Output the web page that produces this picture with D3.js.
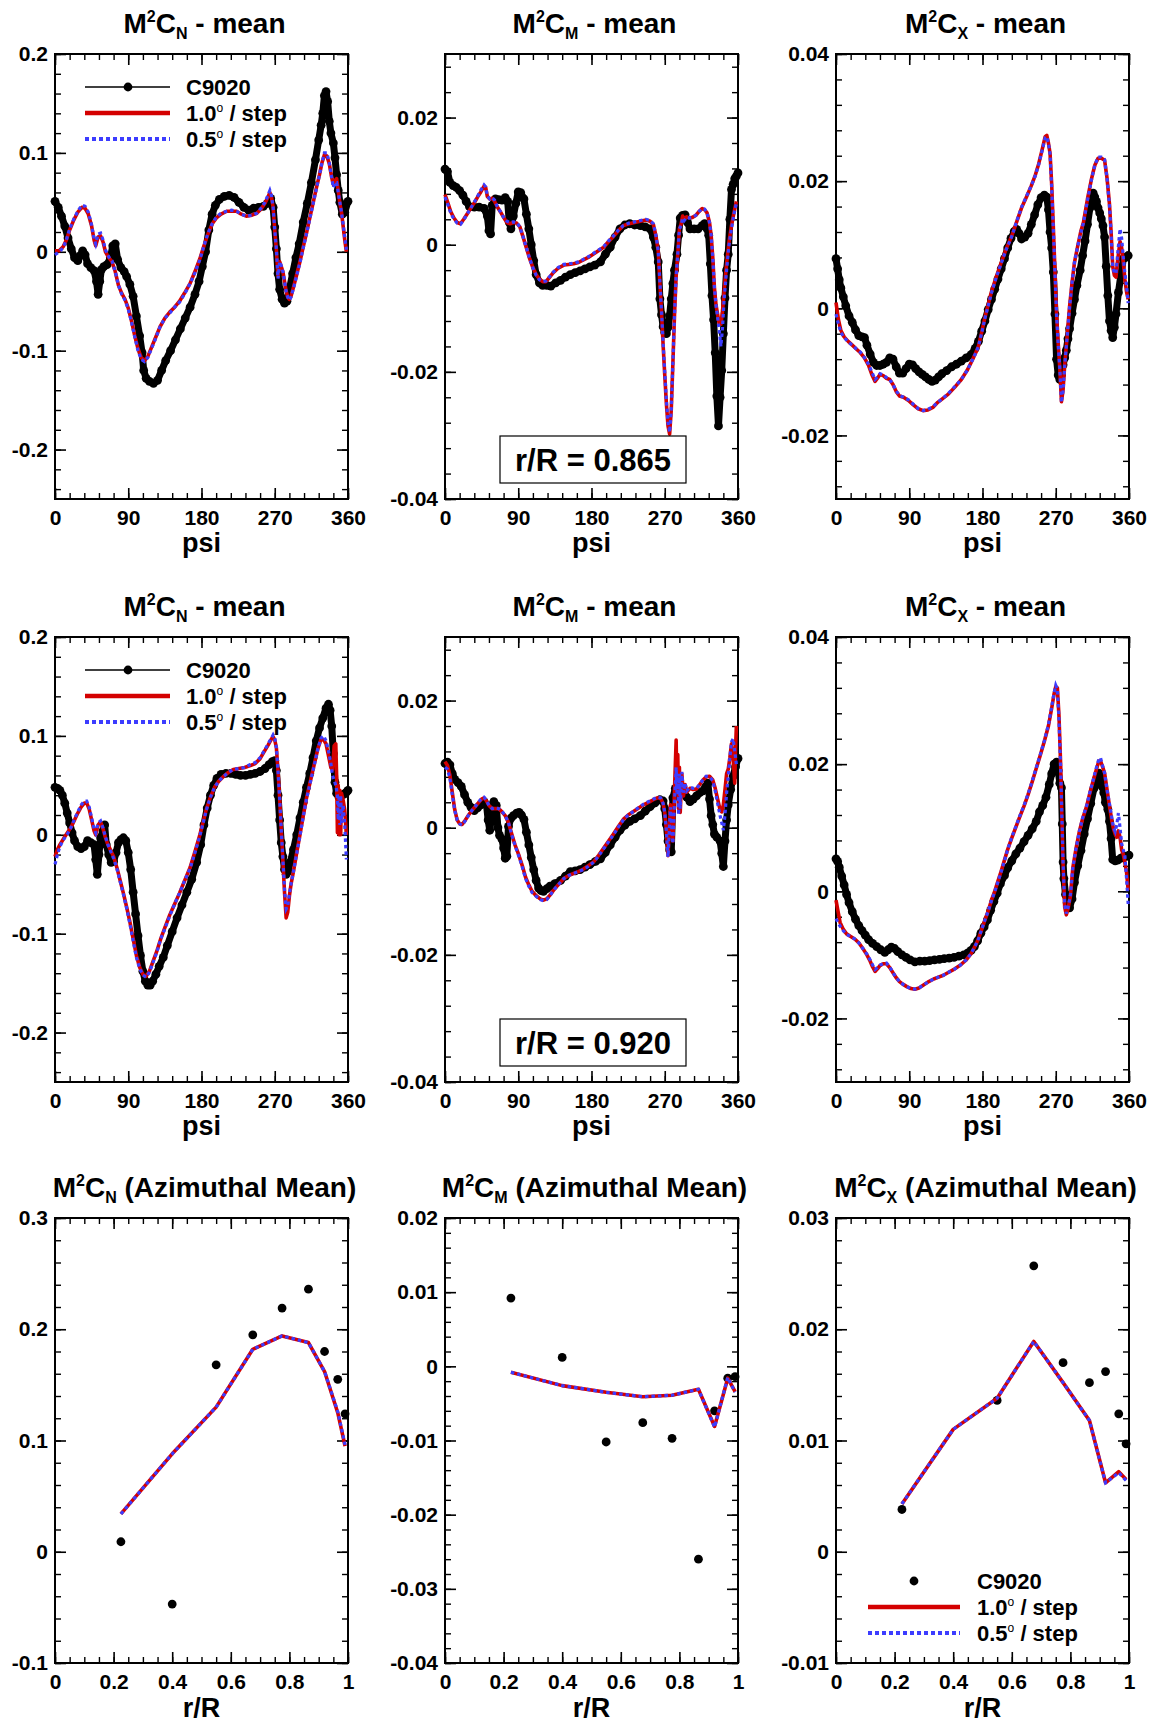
<!DOCTYPE html>
<html>
<head>
<meta charset="utf-8">
<script src="https://cdn.jsdelivr.net/npm/d3@7"></script>
<style>
body { margin: 0; background: #fff; }
svg { display: block; font-family: "Liberation Sans", Arial, Helvetica, sans-serif; font-weight: bold; }
</style>
</head>
<body>
<script>
// ---- axis tick values ----
var psiTicks = [0, 90, 180, 270, 360];
var rTicks = [0, 0.2, 0.4, 0.6, 0.8, 1];
var nTicks = [-0.2, -0.1, 0, 0.1, 0.2];
var mTicks = [-0.04, -0.02, 0, 0.02];
var xTicks = [-0.02, 0, 0.02, 0.04];
var nMeanTicks = [-0.1, 0, 0.1, 0.2, 0.3];
var mMeanTicks = [-0.04, -0.03, -0.02, -0.01, 0, 0.01, 0.02];
var xMeanTicks = [-0.01, 0, 0.01, 0.02, 0.03];

// ---- r/R = 0.865 : C9020 [psi, value] ----
var expN865 = [[0,0.051],[4,0.045],[8,0.036],[12,0.026],[16,0.014],[20,0.003],[24,-0.006],[28,-0.009],[31,-0.004],[34,0.001],[37,-0.003],[40,-0.012],[44,-0.016],[48,-0.019],[51,-0.03],[53,-0.043],[55,-0.03],[57,-0.018],[60,-0.015],[64,-0.013],[68,-0.006],[71,0.006],[74,0.008],[77,-0.008],[81,-0.016],[85,-0.02],[88,-0.025],[92,-0.033],[96,-0.045],[100,-0.065],[104,-0.085],[107,-0.102],[109,-0.12],[112,-0.128],[116,-0.131],[121,-0.133],[126,-0.13],[131,-0.12],[136,-0.11],[142,-0.1],[148,-0.089],[154,-0.078],[160,-0.067],[166,-0.056],[172,-0.043],[177,-0.03],[181,-0.015],[185,0.0],[189,0.022],[193,0.038],[197,0.047],[202,0.053],[208,0.056],[214,0.057],[220,0.055],[226,0.05],[232,0.045],[238,0.042],[244,0.044],[250,0.045],[256,0.046],[261,0.049],[265,0.054],[268,0.045],[270,0.025],[272,0.003],[274,-0.022],[276,-0.038],[279,-0.048],[282,-0.052],[285,-0.05],[288,-0.038],[292,-0.022],[296,-0.006],[300,0.008],[305,0.03],[310,0.049],[315,0.07],[320,0.093],[324,0.113],[327,0.128],[329,0.14],[331,0.158],[333,0.162],[335,0.152],[337,0.132],[339,0.12],[342,0.11],[344,0.095],[346,0.078],[348,0.062],[350,0.05],[353,0.038],[356,0.04],[360,0.051]];
// CFD [psi, 1.0 deg/step, 0.5 deg/step]
var cfdN865 = [[0,0.001,-0.003],[5,0.001,0.0],[10,0.005,0.004],[14,0.012,0.012],[18,0.022,0.023],[23,0.032,0.033],[28,0.04,0.041],[33,0.045,0.047],[37,0.044,0.046],[41,0.038,0.04],[45,0.026,0.027],[48,0.012,0.013],[50,0.006,0.008],[53,0.015,0.018],[56,0.016,0.019],[59,0.01,0.012],[62,0.0,0.002],[66,-0.006,-0.005],[70,-0.01,-0.009],[74,-0.02,-0.02],[78,-0.034,-0.034],[82,-0.042,-0.043],[86,-0.048,-0.049],[90,-0.057,-0.058],[94,-0.07,-0.071],[98,-0.085,-0.086],[102,-0.098,-0.1],[106,-0.107,-0.109],[110,-0.11,-0.111],[114,-0.106,-0.107],[118,-0.098,-0.099],[123,-0.088,-0.089],[129,-0.076,-0.076],[135,-0.067,-0.067],[141,-0.061,-0.062],[147,-0.056,-0.056],[153,-0.05,-0.051],[159,-0.042,-0.043],[166,-0.032,-0.032],[172,-0.02,-0.021],[178,-0.007,-0.008],[183,0.006,0.006],[188,0.018,0.019],[193,0.028,0.028],[198,0.034,0.035],[204,0.038,0.039],[211,0.041,0.041],[217,0.041,0.042],[223,0.041,0.041],[229,0.038,0.038],[235,0.036,0.036],[242,0.037,0.037],[248,0.039,0.039],[253,0.043,0.044],[258,0.049,0.05],[262,0.056,0.058],[264,0.06,0.062],[266,0.055,0.057],[268,0.045,0.045],[270,0.022,0.022],[272,0.002,0.003],[274,-0.025,-0.027],[276,-0.01,-0.01],[278,-0.015,-0.014],[280,-0.02,-0.02],[282,-0.03,-0.03],[284,-0.04,-0.04],[286,-0.046,-0.046],[288,-0.048,-0.049],[290,-0.045,-0.046],[293,-0.036,-0.037],[297,-0.023,-0.024],[301,-0.01,-0.011],[305,0.005,0.004],[309,0.019,0.018],[313,0.034,0.033],[317,0.049,0.048],[321,0.064,0.063],[325,0.078,0.078],[328,0.09,0.09],[331,0.098,0.1],[334,0.097,0.1],[337,0.089,0.09],[340,0.075,0.075],[342,0.068,0.065],[344,0.072,0.07],[346,0.074,0.07],[348,0.062,0.06],[350,0.049,0.05],[352,0.04,0.04],[354,0.026,0.028],[356,0.012,0.015],[358,0.0,0.002]];

var expM865 = [[0,0.0119],[3,0.0115],[6,0.0098],[10,0.0093],[14,0.009],[18,0.0085],[22,0.0078],[26,0.0068],[30,0.006],[36,0.0059],[42,0.0059],[48,0.0057],[52,0.0045],[54,0.0022],[56,0.0017],[58,0.0062],[62,0.0072],[66,0.0071],[70,0.007],[74,0.0074],[77,0.0068],[79,0.0035],[81,0.0025],[84,0.0045],[87,0.0065],[90,0.0083],[93,0.0082],[97,0.0072],[100,0.0048],[103,0.0025],[106,0.0],[109,-0.0025],[112,-0.0047],[116,-0.006],[120,-0.0064],[125,-0.0064],[130,-0.0065],[136,-0.006],[142,-0.0056],[148,-0.0051],[154,-0.0047],[160,-0.0044],[166,-0.0041],[172,-0.0038],[178,-0.0035],[184,-0.0032],[191,-0.0027],[197,-0.0015],[203,-0.0004],[209,0.0012],[215,0.0025],[221,0.0031],[227,0.0033],[233,0.0031],[240,0.003],[246,0.0028],[252,0.0025],[256,0.0012],[259,-0.0004],[262,-0.0027],[264,-0.0085],[266,-0.011],[268,-0.0129],[270,-0.0138],[272,-0.014],[274,-0.013],[276,-0.0112],[278,-0.0085],[280,-0.0061],[282,-0.004],[285,-0.0015],[287,0.0015],[289,0.0042],[292,0.0046],[295,0.0047],[298,0.0035],[301,0.0025],[306,0.0025],[311,0.0025],[316,0.003],[319,0.0033],[322,0.0025],[324,0.0015],[326,-0.003],[328,-0.008],[330,-0.0118],[332,-0.017],[334,-0.0238],[336,-0.0285],[338,-0.024],[340,-0.0198],[342,-0.014],[344,-0.0084],[346,-0.004],[348,-0.0015],[350,0.004],[352,0.0087],[354,0.0095],[356,0.0104],[358,0.0108],[360,0.0113]];
var cfdM865 = [[0,0.0079,0.0075],[3,0.0068,0.0065],[7,0.0052,0.005],[11,0.0042,0.004],[15,0.0035,0.0034],[19,0.0033,0.0032],[23,0.004,0.0039],[27,0.0048,0.0048],[31,0.0056,0.0056],[36,0.0066,0.0067],[40,0.0075,0.0076],[44,0.0083,0.0086],[48,0.0092,0.0094],[50,0.009,0.0091],[52,0.0076,0.0077],[55,0.0072,0.0072],[58,0.0073,0.0074],[61,0.0068,0.007],[64,0.006,0.0061],[68,0.0052,0.0052],[72,0.0043,0.0043],[76,0.0035,0.0037],[80,0.0033,0.0035],[84,0.0035,0.0036],[88,0.0034,0.0035],[92,0.0028,0.0028],[96,0.0012,0.0012],[100,-0.0005,-0.0005],[104,-0.0022,-0.0022],[108,-0.0036,-0.0036],[112,-0.0047,-0.0048],[116,-0.0054,-0.0055],[120,-0.0058,-0.0058],[124,-0.0058,-0.0057],[128,-0.0052,-0.0051],[133,-0.0044,-0.0043],[139,-0.0037,-0.0036],[146,-0.0032,-0.0031],[152,-0.0031,-0.003],[158,-0.003,-0.0029],[164,-0.0028,-0.0027],[170,-0.0024,-0.0023],[176,-0.002,-0.0019],[182,-0.0015,-0.0014],[189,-0.0009,-0.0008],[195,-0.0004,-0.0003],[201,0.0005,0.0006],[207,0.0013,0.0014],[213,0.0022,0.0023],[219,0.003,0.003],[226,0.0033,0.0034],[233,0.0035,0.0036],[240,0.0037,0.0038],[247,0.0039,0.004],[252,0.0037,0.0038],[256,0.0032,0.0033],[259,0.0015,0.0016],[262,-0.001,-0.0009],[264,-0.006,-0.0058],[266,-0.0105,-0.0103],[268,-0.0158,-0.0155],[270,-0.0205,-0.02],[272,-0.025,-0.0245],[274,-0.0285,-0.028],[276,-0.0298,-0.0295],[278,-0.026,-0.026],[280,-0.0186,-0.0186],[282,-0.011,-0.011],[284,-0.005,-0.005],[286,-0.0015,-0.0015],[288,0.0025,0.0025],[290,0.0032,0.003],[292,0.0045,0.0042],[294,0.004,0.0038],[297,0.0044,0.0043],[300,0.0042,0.0042],[304,0.0043,0.0043],[308,0.0046,0.0046],[312,0.0052,0.0052],[316,0.0057,0.0057],[319,0.0055,0.0056],[322,0.005,0.005],[325,0.0035,0.0035],[327,0.0015,0.0015],[329,-0.002,-0.002],[331,-0.0067,-0.0067],[333,-0.0095,-0.0095],[335,-0.011,-0.0115],[337,-0.0125,-0.0135],[339,-0.0125,-0.016],[341,-0.0105,-0.013],[343,-0.0072,-0.0085],[346,-0.003,-0.004],[349,0.0005,0.0],[352,0.003,0.0025],[355,0.005,0.0048],[358,0.0068,0.0065]];

var expX865 = [[0,0.0078],[2,0.0062],[4,0.0045],[6,0.0032],[9,0.0018],[12,0.0004],[16,-0.0012],[20,-0.0022],[24,-0.0034],[28,-0.0043],[32,-0.0045],[35,-0.0046],[38,-0.0058],[42,-0.0072],[46,-0.0085],[50,-0.009],[54,-0.009],[58,-0.0088],[62,-0.0085],[66,-0.0078],[70,-0.008],[74,-0.0092],[78,-0.0102],[82,-0.0102],[86,-0.0095],[90,-0.0088],[94,-0.0089],[98,-0.0095],[102,-0.01],[106,-0.0104],[110,-0.0108],[114,-0.0112],[118,-0.0115],[122,-0.0113],[126,-0.0108],[130,-0.0103],[136,-0.0098],[142,-0.0092],[148,-0.0088],[154,-0.0083],[160,-0.0078],[166,-0.0073],[171,-0.0063],[175,-0.0052],[179,-0.0036],[183,-0.002],[187,-0.0002],[191,0.0014],[195,0.003],[199,0.0046],[203,0.0062],[207,0.0078],[211,0.0095],[215,0.011],[219,0.0121],[222,0.0124],[225,0.0118],[228,0.0109],[232,0.0112],[236,0.0118],[240,0.0132],[244,0.0147],[248,0.0163],[252,0.0174],[256,0.0178],[259,0.0175],[261,0.0155],[263,0.012],[265,0.0095],[267,0.0057],[269,-0.0009],[271,-0.008],[273,-0.0105],[275,-0.0112],[277,-0.0105],[279,-0.0089],[281,-0.0078],[283,-0.0066],[285,-0.0048],[287,-0.0032],[290,-0.0008],[293,0.0014],[296,0.0036],[300,0.006],[303,0.0083],[306,0.0106],[309,0.0132],[312,0.0158],[314,0.017],[316,0.0181],[318,0.0175],[320,0.0168],[322,0.0158],[324,0.015],[326,0.0141],[328,0.013],[330,0.0112],[332,0.0066],[334,0.002],[336,-0.002],[338,-0.0035],[340,-0.0046],[342,-0.003],[344,-0.0009],[347,0.0025],[350,0.0052],[353,0.0078],[356,0.008],[359,0.0083]];
var cfdX865 = [[0,0.0009,-0.0009],[3,-0.0018,-0.0025],[6,-0.0035,-0.0038],[10,-0.0045,-0.0046],[15,-0.0052,-0.0053],[20,-0.0058,-0.0058],[25,-0.0064,-0.0064],[30,-0.007,-0.0069],[35,-0.0078,-0.0078],[40,-0.009,-0.0088],[44,-0.0104,-0.01],[48,-0.0115,-0.0112],[51,-0.011,-0.0108],[54,-0.0104,-0.0103],[58,-0.0106,-0.0105],[62,-0.011,-0.0109],[66,-0.0112,-0.0112],[70,-0.012,-0.012],[74,-0.0131,-0.013],[78,-0.0138,-0.0137],[83,-0.014,-0.014],[89,-0.0145,-0.0144],[95,-0.0152,-0.0151],[101,-0.0158,-0.0158],[107,-0.0161,-0.0161],[113,-0.016,-0.0159],[119,-0.0156,-0.0155],[125,-0.0148,-0.0148],[131,-0.0142,-0.0142],[138,-0.0135,-0.0134],[146,-0.0124,-0.0123],[154,-0.0112,-0.0112],[161,-0.0098,-0.0098],[167,-0.0083,-0.0083],[171,-0.0072,-0.0072],[175,-0.006,-0.006],[179,-0.0038,-0.0039],[183,-0.0014,-0.0016],[187,0.0006,0.0004],[191,0.0026,0.0024],[197,0.005,0.0049],[203,0.0072,0.0071],[209,0.0093,0.0092],[216,0.0114,0.0113],[222,0.0136,0.0137],[228,0.0158,0.0159],[234,0.0175,0.0176],[240,0.0193,0.0193],[245,0.021,0.0209],[249,0.0227,0.0226],[253,0.0248,0.0247],[257,0.027,0.0268],[259,0.0272,0.027],[261,0.026,0.026],[263,0.0244,0.0242],[265,0.0195,0.019],[267,0.0129,0.0125],[269,0.006,0.0058],[271,-0.0009,-0.001],[273,-0.0055,-0.0056],[275,-0.0095,-0.0095],[277,-0.0147,-0.0148],[279,-0.0128,-0.013],[281,-0.0089,-0.009],[284,-0.0044,-0.0045],[287,0.0003,0.0002],[290,0.004,0.004],[293,0.0072,0.0072],[297,0.0098,0.0098],[301,0.0122,0.012],[304,0.0135,0.0134],[309,0.0172,0.017],[314,0.0204,0.0203],[318,0.0225,0.0225],[322,0.0236,0.0238],[326,0.0236,0.0238],[330,0.0233,0.0234],[333,0.0205,0.0205],[336,0.0164,0.0162],[338,0.012,0.0118],[340,0.0066,0.0066],[342,0.0052,0.0055],[344,0.0049,0.0055],[346,0.0075,0.0085],[349,0.0105,0.0125],[351,0.0095,0.011],[353,0.0072,0.008],[355,0.0045,0.0055],[357,0.0026,0.0035],[359,0.0014,0.0008]];

// ---- r/R = 0.920 ----
var expN920 = [[0,0.048],[3,0.047],[6,0.045],[9,0.04],[12,0.032],[15,0.022],[18,0.012],[21,0.002],[24,-0.006],[28,-0.012],[32,-0.014],[36,-0.012],[40,-0.006],[44,-0.008],[48,-0.01],[50,-0.025],[52,-0.04],[54,-0.02],[56,-0.003],[59,0.004],[61,0.01],[63,-0.01],[66,-0.02],[69,-0.028],[72,-0.027],[75,-0.018],[78,-0.008],[81,-0.005],[84,-0.003],[87,-0.006],[90,-0.018],[93,-0.035],[96,-0.058],[99,-0.08],[102,-0.102],[105,-0.122],[108,-0.138],[111,-0.148],[114,-0.152],[117,-0.152],[120,-0.148],[124,-0.141],[128,-0.133],[133,-0.124],[138,-0.112],[144,-0.098],[150,-0.084],[156,-0.071],[162,-0.058],[168,-0.045],[174,-0.028],[179,-0.01],[183,0.01],[187,0.027],[191,0.04],[195,0.05],[199,0.057],[204,0.061],[210,0.062],[216,0.062],[222,0.061],[228,0.06],[234,0.06],[240,0.061],[246,0.062],[252,0.064],[258,0.067],[263,0.071],[267,0.074],[270,0.075],[272,0.065],[274,0.04],[276,0.015],[278,-0.008],[280,-0.022],[282,-0.035],[284,-0.04],[286,-0.037],[289,-0.028],[293,-0.015],[297,0.0],[301,0.017],[305,0.033],[309,0.048],[313,0.062],[317,0.078],[321,0.095],[325,0.108],[329,0.118],[333,0.128],[336,0.132],[338,0.126],[340,0.11],[342,0.082],[344,0.053],[346,0.042],[349,0.038],[352,0.04],[355,0.041],[358,0.043],[360,0.045]];
var cfdN920 = [[0,-0.022,-0.03],[3,-0.015,-0.02],[6,-0.01,-0.012],[9,-0.006,-0.007],[12,-0.002,-0.003],[16,0.003,0.002],[20,0.008,0.008],[24,0.015,0.016],[28,0.022,0.023],[32,0.028,0.03],[36,0.032,0.034],[39,0.032,0.034],[42,0.026,0.028],[45,0.015,0.017],[48,0.004,0.006],[50,0.0,0.002],[53,0.01,0.012],[56,0.013,0.014],[59,0.006,0.007],[62,-0.003,-0.002],[65,-0.01,-0.01],[68,-0.015,-0.016],[72,-0.022,-0.024],[76,-0.033,-0.034],[80,-0.046,-0.047],[84,-0.059,-0.06],[88,-0.073,-0.074],[92,-0.088,-0.09],[96,-0.105,-0.107],[100,-0.122,-0.124],[104,-0.134,-0.135],[108,-0.141,-0.142],[112,-0.143,-0.144],[116,-0.138,-0.139],[120,-0.129,-0.13],[125,-0.118,-0.119],[130,-0.105,-0.105],[135,-0.094,-0.095],[141,-0.081,-0.082],[147,-0.07,-0.07],[153,-0.059,-0.059],[159,-0.047,-0.047],[166,-0.033,-0.034],[172,-0.017,-0.018],[178,0.0,-0.001],[182,0.013,0.012],[186,0.026,0.025],[191,0.038,0.038],[196,0.048,0.048],[201,0.054,0.054],[207,0.059,0.059],[213,0.063,0.063],[219,0.066,0.066],[226,0.067,0.067],[233,0.068,0.068],[240,0.07,0.071],[246,0.072,0.073],[252,0.077,0.078],[257,0.084,0.085],[262,0.091,0.092],[266,0.097,0.098],[268,0.099,0.101],[270,0.096,0.098],[272,0.088,0.088],[274,0.065,0.065],[276,0.037,0.037],[278,0.005,0.005],[280,-0.026,-0.025],[282,-0.058,-0.055],[284,-0.084,-0.075],[286,-0.078,-0.072],[288,-0.062,-0.06],[290,-0.05,-0.05],[293,-0.037,-0.037],[297,-0.018,-0.019],[301,0.0,-0.001],[305,0.019,0.018],[309,0.037,0.036],[314,0.055,0.054],[319,0.073,0.072],[323,0.087,0.087],[327,0.097,0.098],[330,0.096,0.1],[333,0.092,0.095],[336,0.08,0.085],[339,0.068,0.072],[341,0.066,0.06],[343,0.09,0.055],[345,0.092,0.05],[346,0.06,0.045],[347,0.002,0.04],[348,0.05,0.015],[349,0.0,0.04],[350,0.045,0.01],[351,0.0,0.04],[352,0.042,0.012],[354,0.035,0.03],[356,0.025,0.01],[358,0.0,-0.025]];

var expM920 = [[0,0.0101],[3,0.0103],[6,0.0099],[9,0.0085],[12,0.0076],[16,0.0071],[20,0.0065],[24,0.0052],[28,0.004],[32,0.0032],[36,0.0027],[40,0.0031],[44,0.0036],[48,0.0041],[51,0.0036],[53,0.0012],[55,-0.0004],[57,0.0015],[60,0.0041],[63,0.0035],[65,0.0],[67,-0.0012],[70,-0.0018],[72,-0.0032],[74,-0.0048],[76,-0.0045],[78,0.0002],[81,0.0015],[84,0.0019],[88,0.0023],[91,0.0024],[94,0.002],[97,0.0013],[100,-0.0007],[103,-0.0027],[106,-0.0047],[109,-0.0066],[112,-0.0083],[115,-0.0095],[118,-0.0099],[121,-0.01],[125,-0.0096],[129,-0.0092],[135,-0.0088],[142,-0.0083],[148,-0.0076],[154,-0.0069],[160,-0.0068],[166,-0.0066],[172,-0.0062],[178,-0.0058],[185,-0.0053],[191,-0.0049],[197,-0.0039],[203,-0.0027],[209,-0.0015],[215,-0.0004],[221,0.0004],[227,0.001],[233,0.0014],[240,0.0019],[246,0.0026],[252,0.0033],[258,0.0039],[264,0.0044],[268,0.0042],[270,0.003],[272,0.0005],[274,-0.0021],[276,-0.0035],[278,-0.0038],[280,0.0047],[283,0.0062],[287,0.007],[290,0.0064],[293,0.0058],[297,0.0048],[301,0.0041],[305,0.0045],[309,0.005],[313,0.0055],[317,0.0058],[320,0.0064],[323,0.007],[325,0.0045],[327,0.0019],[329,0.0005],[331,-0.001],[334,-0.0015],[338,-0.0021],[340,-0.004],[342,-0.0061],[344,-0.0021],[346,0.0012],[348,0.0036],[351,0.006],[354,0.0081],[357,0.0096],[360,0.0109]];
var cfdM920 = [[0,0.0104,0.0095],[3,0.0098,0.0092],[6,0.0083,0.0078],[9,0.0055,0.0052],[12,0.0028,0.0027],[15,0.0012,0.0012],[18,0.0006,0.0006],[21,0.0005,0.0004],[25,0.0012,0.0011],[29,0.002,0.002],[33,0.0027,0.0027],[37,0.0033,0.0033],[41,0.0039,0.004],[45,0.0045,0.0046],[48,0.0047,0.0048],[51,0.0042,0.0043],[54,0.0035,0.0035],[58,0.003,0.003],[62,0.003,0.0031],[66,0.003,0.003],[70,0.0025,0.0026],[74,0.0019,0.0019],[78,0.0008,0.0008],[82,-0.001,-0.0011],[86,-0.0027,-0.0028],[91,-0.0044,-0.0046],[95,-0.006,-0.0062],[99,-0.0078,-0.008],[103,-0.009,-0.0092],[107,-0.01,-0.0102],[112,-0.0107,-0.0108],[117,-0.0112,-0.0113],[121,-0.0114,-0.0115],[125,-0.0112,-0.0113],[129,-0.0106,-0.0107],[133,-0.0099,-0.0099],[139,-0.009,-0.009],[146,-0.008,-0.008],[152,-0.0075,-0.0075],[158,-0.0072,-0.0072],[164,-0.0069,-0.0069],[170,-0.0065,-0.0066],[176,-0.006,-0.0061],[183,-0.0053,-0.0054],[189,-0.0043,-0.0044],[195,-0.0032,-0.0033],[201,-0.0021,-0.0022],[207,-0.001,-0.0011],[213,0.0002,0.0001],[219,0.0013,0.0012],[225,0.002,0.002],[232,0.0026,0.0026],[238,0.0031,0.0032],[244,0.0036,0.0037],[250,0.004,0.0041],[256,0.0044,0.0045],[261,0.0047,0.0048],[265,0.0046,0.0047],[268,0.0038,0.0038],[270,0.0024,0.0024],[272,-0.0005,-0.0005],[274,-0.0044,-0.0046],[276,0.001,0.0005],[277,0.0036,0.0032],[279,0.0,-0.0008],[280,-0.0021,-0.0025],[282,0.006,0.004],[284,0.0138,0.0095],[285,0.006,0.0055],[286,0.0115,0.0085],[287,0.003,0.002],[288,0.0095,0.0085],[289,0.0024,0.003],[291,0.0085,0.0088],[293,0.005,0.0055],[295,0.0068,0.007],[297,0.0056,0.0058],[301,0.0062,0.0064],[305,0.006,0.0062],[309,0.0061,0.0062],[313,0.0068,0.0068],[317,0.0075,0.0076],[321,0.008,0.0081],[325,0.0081,0.008],[329,0.0075,0.0074],[332,0.0062,0.0058],[335,0.0045,0.0038],[338,0.0028,0.0019],[340,0.0025,0.0008],[342,0.0036,-0.0004],[344,0.006,0.002],[346,0.0085,0.0055],[348,0.0092,0.008],[350,0.011,0.011],[352,0.0132,0.0135],[354,0.011,0.014],[356,0.007,0.012],[357,0.0125,0.011],[358,0.016,0.01]];

var expX920 = [[0,0.0051],[2,0.0047],[4,0.0038],[7,0.0024],[10,0.001],[13,-0.0005],[16,-0.0018],[20,-0.0032],[24,-0.0044],[28,-0.0054],[32,-0.0062],[36,-0.0069],[40,-0.0076],[45,-0.0082],[50,-0.0087],[55,-0.0092],[60,-0.0096],[64,-0.0092],[68,-0.0088],[72,-0.009],[76,-0.0095],[81,-0.01],[86,-0.0104],[91,-0.0108],[97,-0.0111],[103,-0.011],[109,-0.011],[115,-0.0109],[121,-0.0108],[127,-0.0107],[133,-0.0106],[139,-0.0105],[145,-0.0104],[151,-0.0102],[157,-0.01],[162,-0.0097],[166,-0.0093],[170,-0.0087],[174,-0.0078],[178,-0.0066],[182,-0.0056],[186,-0.0045],[190,-0.003],[194,-0.0016],[198,-0.0003],[202,0.0012],[207,0.0025],[211,0.0037],[216,0.0048],[221,0.0059],[226,0.0068],[231,0.0078],[236,0.0088],[241,0.0098],[246,0.011],[250,0.0125],[254,0.0135],[258,0.0148],[262,0.0168],[265,0.0185],[268,0.02],[271,0.0203],[273,0.019],[275,0.017],[277,0.0163],[278,0.0106],[279,0.0046],[280,0.002],[282,-0.0005],[284,-0.0018],[287,-0.0026],[290,-0.0012],[293,0.0014],[297,0.004],[301,0.0064],[305,0.009],[309,0.0114],[313,0.0138],[317,0.0162],[320,0.0176],[323,0.0186],[325,0.0182],[327,0.0165],[329,0.0155],[331,0.014],[334,0.0129],[336,0.011],[338,0.0083],[340,0.005],[343,0.0048],[346,0.0049],[350,0.0052],[354,0.0055],[357,0.0055],[360,0.0057]];
var cfdX920 = [[0,-0.0014,-0.0043],[2,-0.0028,-0.0048],[5,-0.0049,-0.0055],[9,-0.006,-0.0062],[13,-0.0067,-0.0068],[18,-0.0071,-0.0071],[23,-0.0075,-0.0075],[28,-0.0081,-0.0081],[33,-0.009,-0.009],[38,-0.01,-0.0099],[42,-0.011,-0.0108],[45,-0.0119,-0.0116],[48,-0.0126,-0.0123],[51,-0.0122,-0.012],[54,-0.0117,-0.0116],[58,-0.0114,-0.0114],[62,-0.0114,-0.0113],[66,-0.012,-0.0119],[70,-0.0128,-0.0128],[74,-0.0136,-0.0136],[78,-0.0142,-0.0142],[82,-0.0146,-0.0146],[87,-0.015,-0.015],[92,-0.0153,-0.0153],[97,-0.0154,-0.0154],[102,-0.0152,-0.0152],[108,-0.0147,-0.0147],[114,-0.0142,-0.0142],[120,-0.0138,-0.0138],[126,-0.0135,-0.0135],[132,-0.0132,-0.0132],[139,-0.0127,-0.0127],[146,-0.0122,-0.0122],[153,-0.0116,-0.0116],[160,-0.0108,-0.0108],[166,-0.0098,-0.0098],[171,-0.0086,-0.0086],[175,-0.0075,-0.0075],[179,-0.006,-0.006],[183,-0.0045,-0.0045],[187,-0.0031,-0.0031],[191,-0.0014,-0.0015],[195,0.0,-0.0001],[199,0.0016,0.0015],[203,0.0032,0.0031],[207,0.0049,0.0048],[211,0.0066,0.0066],[216,0.0084,0.0085],[221,0.0101,0.0102],[226,0.0118,0.0119],[231,0.0134,0.0135],[236,0.0152,0.0153],[241,0.0172,0.0173],[246,0.0193,0.0194],[251,0.0214,0.0215],[256,0.0236,0.0237],[261,0.026,0.0262],[265,0.0288,0.029],[268,0.0311,0.0312],[270,0.0322,0.0324],[272,0.032,0.0318],[274,0.0275,0.027],[276,0.02,0.0195],[277,0.0146,0.0146],[279,0.0043,0.0045],[281,-0.0025,-0.0022],[283,-0.0037,-0.0035],[285,-0.0028,-0.0026],[288,-0.0008,-0.0006],[291,0.0037,0.0037],[295,0.0068,0.0068],[299,0.0094,0.0094],[303,0.0114,0.0115],[308,0.0134,0.0135],[312,0.0155,0.0156],[316,0.0174,0.0175],[320,0.0192,0.0195],[323,0.0205,0.0208],[325,0.0205,0.021],[327,0.0198,0.02],[330,0.0186,0.0186],[333,0.016,0.016],[336,0.0134,0.0138],[339,0.011,0.0115],[341,0.0098,0.01],[343,0.009,0.0094],[345,0.0085,0.0105],[347,0.0095,0.0123],[349,0.0085,0.01],[351,0.0065,0.0075],[353,0.0058,0.0065],[355,0.0045,0.0055],[357,0.003,0.002],[359,0.0002,-0.002]];

// ---- azimuthal means vs r/R ----
var rStations = [0.225, 0.40, 0.55, 0.675, 0.775, 0.865, 0.92, 0.965, 0.99];
var expNmean = [0.009, -0.047, 0.168, 0.195, 0.219, 0.236, 0.180, 0.155, 0.124];
var cfdNmean10 = [0.034, 0.088, 0.130, 0.182, 0.194, 0.188, 0.162, 0.125, 0.095];
var cfdNmean05 = [0.034, 0.088, 0.130, 0.182, 0.194, 0.188, 0.162, 0.126, 0.096];
var expMmean = [0.0092, 0.0012, -0.0102, -0.0076, -0.0097, -0.026, -0.006, -0.0016, -0.0014];
var cfdMmean10 = [-0.0008, -0.0026, -0.0035, -0.0041, -0.0039, -0.0031, -0.0081, -0.0016, -0.0034];
var cfdMmean05 = [-0.0008, -0.0026, -0.0035, -0.0041, -0.0039, -0.0031, -0.0082, -0.0015, -0.0035];
var expXmean = [0.0038, null, 0.0136, 0.0257, 0.0170, 0.0152, 0.0162, 0.0124, 0.0097];
var cfdXmean10 = [0.0043, 0.0110, 0.0138, 0.0189, 0.0152, 0.0118, 0.0062, 0.0072, 0.0065];
var cfdXmean05 = [0.0043, 0.0110, 0.0138, 0.0189, 0.0152, 0.0118, 0.0062, 0.0071, 0.0064];

var RED = "#d40000", BLUE = "#3c3cff";

var width = 1152, height = 1722;
var pw = 293, ph = 445;
var cols = [55, 445, 836];
var rows = [54, 637, 1218];

var svg = d3.select("body").append("svg")
	.attr("width", width)
	.attr("height", height);

function fmt(v) { return String(+v.toFixed(4)); }

function minorValues(dom, step) {
	var out = [];
	for (var k = Math.ceil(dom[0] / step - 1e-6); k <= Math.floor(dom[1] / step + 1e-6); k++) out.push(+(k * step).toFixed(6));
	return out;
}

function addTitle(g, sub, rest) {
	var t = g.append("text")
		.attr("x", pw / 2 + 3).attr("y", -21)
		.attr("text-anchor", "middle")
		.style("font-size", "28px");
	t.append("tspan").text("M");
	t.append("tspan").attr("dy", -11).style("font-size", "16px").text("2");
	t.append("tspan").attr("dy", 11).text("C");
	t.append("tspan").attr("dy", 6).style("font-size", "16px").text(sub);
	t.append("tspan").attr("dy", -6).text(rest);
}

function addStepText(g, x, y, val) {
	var t = g.append("text").attr("x", x).attr("y", y).style("font-size", "22px");
	t.append("tspan").text(val);
	t.append("tspan").attr("dy", -9).style("font-size", "12px").style("font-weight", "normal").text("o");
	t.append("tspan").attr("dy", 9).text(" / step");
}

function drawPanel(p) {
	var g = svg.append("g").attr("transform", "translate(" + p.left + "," + p.top + ")");
	var x = d3.scaleLinear().domain(p.xDomain).range([0, pw]);
	var y = d3.scaleLinear().domain(p.yDomain).range([ph, 0]);

	// minor ticks on all four sides (inward)
	var xm = minorValues(p.xDomain, p.xMinor), ym = minorValues(p.yDomain, p.yMinor);
	var sides = [
		[d3.axisBottom(x).tickValues(xm), "translate(0," + ph + ")"],
		[d3.axisTop(x).tickValues(xm), null],
		[d3.axisLeft(y).tickValues(ym), null],
		[d3.axisRight(y).tickValues(ym), "translate(" + pw + ",0)"]
	];
	sides.forEach(function(s) {
		var a = g.append("g").attr("transform", s[1]).call(s[0].tickSize(-6).tickFormat(""));
		a.select(".domain").remove();
		a.selectAll("line").attr("stroke-width", 1.4);
	});
	// major ticks + labels
	var bx = g.append("g").attr("transform", "translate(0," + ph + ")")
		.call(d3.axisBottom(x).tickValues(p.xTicks).tickSize(-11).tickPadding(11).tickFormat(fmt));
	var tx = g.append("g").call(d3.axisTop(x).tickValues(p.xTicks).tickSize(-11).tickFormat(""));
	var ly = g.append("g").call(d3.axisLeft(y).tickValues(p.yTicks).tickSize(-11).tickPadding(7).tickFormat(fmt));
	var ry = g.append("g").attr("transform", "translate(" + pw + ",0)")
		.call(d3.axisRight(y).tickValues(p.yTicks).tickSize(-11).tickFormat(""));
	[bx, tx, ly, ry].forEach(function(a) {
		a.select(".domain").remove();
		a.selectAll("line").attr("stroke-width", 1.6);
		a.selectAll("text").attr("fill", "#000").style("font-family", "Liberation Sans, Arial, sans-serif")
			.style("font-weight", "bold").style("font-size", "21px");
	});
	bx.selectAll("text").attr("dy", "0.71em");

	g.append("rect").attr("width", pw).attr("height", ph)
		.attr("fill", "none").attr("stroke", "#000").attr("stroke-width", 2);

	addTitle(g, p.sub, p.rest);
	g.append("text").attr("x", pw / 2).attr("y", ph + p.labelDy)
		.attr("text-anchor", "middle").style("font-size", "27px").text(p.xLabel);

	// experiment
	if (p.expLine) {
		var le = d3.line().x(function(d) { return x(d[0]); }).y(function(d) { return y(d[1]); });
		g.append("path").datum(p.exp).attr("d", le).attr("fill", "none")
			.attr("stroke", "#000").attr("stroke-width", 7).attr("stroke-linejoin", "round").attr("stroke-linecap", "round");
	}
	g.selectAll(".dot").data(p.exp).enter().append("circle")
		.attr("class", "dot")
		.attr("cx", function(d) { return x(d[0]); })
		.attr("cy", function(d) { return y(d[1]); })
		.attr("r", 4.4).attr("fill", "#000");

	// CFD: 1.0 deg/step red solid, 0.5 deg/step blue dotted
	var l1 = d3.line().x(function(d) { return x(d[0]); }).y(function(d) { return y(d[1]); });
	var l2 = d3.line().x(function(d) { return x(d[0]); }).y(function(d) { return y(d[2]); });
	g.append("path").datum(p.cfd).attr("d", l1).attr("fill", "none")
		.attr("stroke", RED).attr("stroke-width", 3.6).attr("stroke-linejoin", "round");
	g.append("path").datum(p.cfd).attr("d", l2).attr("fill", "none")
		.attr("stroke", BLUE).attr("stroke-width", 3.2).attr("stroke-dasharray", "3.5,3");

	if (p.box) {
		g.append("rect").attr("x", 55).attr("y", 382).attr("width", 186).attr("height", 47)
			.attr("fill", "#fff").attr("stroke", "#000").attr("stroke-width", 1.2);
		g.append("text").attr("x", 148).attr("y", 417).attr("text-anchor", "middle")
			.style("font-size", "31px").text(p.box);
	}

	if (p.legend) {
		var L = p.legend;
		if (L.line) {
			g.append("line").attr("x1", L.x0).attr("x2", L.x1).attr("y1", L.y).attr("y2", L.y)
				.attr("stroke", "#000").attr("stroke-width", 1.6);
		}
		g.append("circle").attr("cx", L.dotX).attr("cy", L.y).attr("r", 4.4).attr("fill", "#000");
		g.append("text").attr("x", L.tx).attr("y", L.y + 8).style("font-size", "22px").text("C9020");
		g.append("line").attr("x1", L.x0).attr("x2", L.x1).attr("y1", L.y + 26).attr("y2", L.y + 26)
			.attr("stroke", RED).attr("stroke-width", 4.5);
		addStepText(g, L.tx, L.y + 34, "1.0");
		g.append("line").attr("x1", L.x0).attr("x2", L.x1).attr("y1", L.y + 52).attr("y2", L.y + 52)
			.attr("stroke", BLUE).attr("stroke-width", 4).attr("stroke-dasharray", "4,3");
		addStepText(g, L.tx, L.y + 60, "0.5");
	}
}

function pairs(r, v) {
	return r.map(function(d, i) { return [d, v[i]]; }).filter(function(d) { return d[1] !== null; });
}
function triples(r, a, b) {
	return r.map(function(d, i) { return [d, a[i], b[i]]; });
}

var psiRow = function(top, expN, cfdN, expM, cfdM, expX, cfdX, box) {
	var common = { top: top, xDomain: [0, 360], xTicks: psiTicks, xMinor: 18, xLabel: "psi", labelDy: 53, rest: " - mean", expLine: true };
	drawPanel(Object.assign({}, common, { left: cols[0], yDomain: [-0.25, 0.2], yTicks: nTicks, yMinor: 0.02, sub: "N", exp: expN, cfd: cfdN,
		legend: { line: true, x0: 30, x1: 115, dotX: 73, tx: 131, y: 33 } }));
	drawPanel(Object.assign({}, common, { left: cols[1], yDomain: [-0.04, 0.03], yTicks: mTicks, yMinor: 0.004, sub: "M", exp: expM, cfd: cfdM, box: box }));
	drawPanel(Object.assign({}, common, { left: cols[2], yDomain: [-0.03, 0.04], yTicks: xTicks, yMinor: 0.004, sub: "X", exp: expX, cfd: cfdX }));
};

psiRow(rows[0], expN865, cfdN865, expM865, cfdM865, expX865, cfdX865, "r/R = 0.865");
psiRow(rows[1], expN920, cfdN920, expM920, cfdM920, expX920, cfdX920, "r/R = 0.920");

var meanCommon = { top: rows[2], xDomain: [0, 1], xTicks: rTicks, xMinor: 0.05, xLabel: "r/R", labelDy: 54, rest: " (Azimuthal Mean)", expLine: false };
drawPanel(Object.assign({}, meanCommon, { left: cols[0], yDomain: [-0.1, 0.3], yTicks: nMeanTicks, yMinor: 0.02, sub: "N",
	exp: pairs(rStations, expNmean), cfd: triples(rStations, cfdNmean10, cfdNmean05) }));
drawPanel(Object.assign({}, meanCommon, { left: cols[1], yDomain: [-0.04, 0.02], yTicks: mMeanTicks, yMinor: 0.002, sub: "M",
	exp: pairs(rStations, expMmean), cfd: triples(rStations, cfdMmean10, cfdMmean05) }));
drawPanel(Object.assign({}, meanCommon, { left: cols[2], yDomain: [-0.01, 0.03], yTicks: xMeanTicks, yMinor: 0.002, sub: "X",
	exp: pairs(rStations, expXmean), cfd: triples(rStations, cfdXmean10, cfdXmean05),
	legend: { line: false, x0: 32, x1: 124, dotX: 78, tx: 141, y: 363 } }));
</script>
</body>
</html>
